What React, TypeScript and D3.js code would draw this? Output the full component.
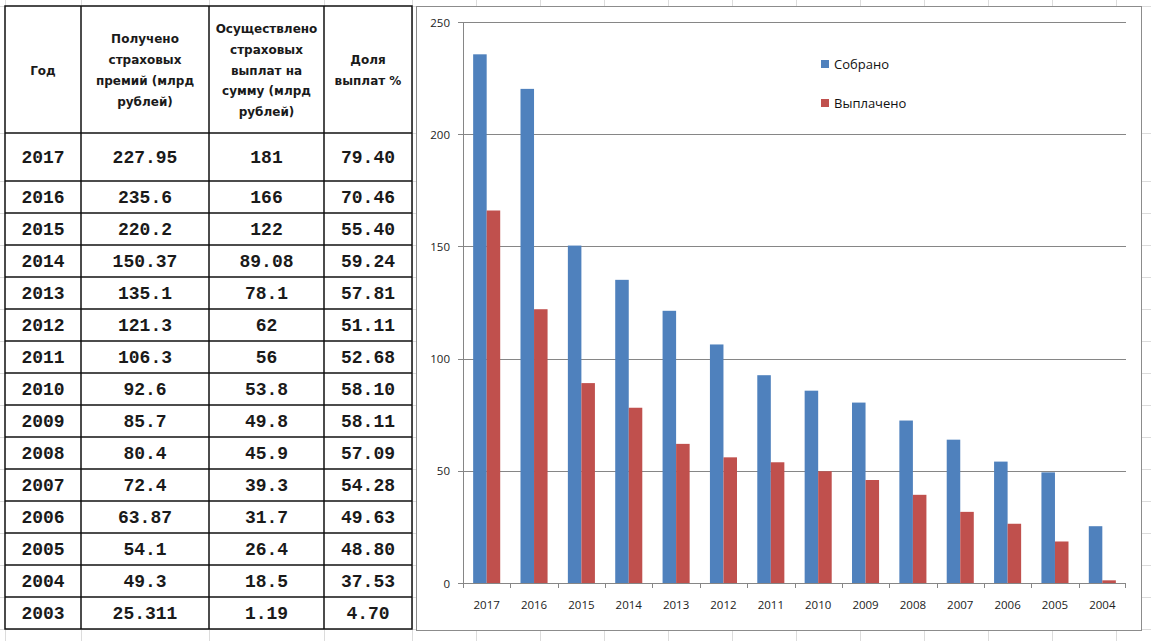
import React from 'react'
import * as d3 from 'd3'

// ---- table data (as printed) ----
const tableYears = ['2017', '2016', '2015', '2014', '2013', '2012', '2011', '2010', '2009', '2008', '2007', '2006', '2005', '2004', '2003']
const premiums = ['227.95', '235.6', '220.2', '150.37', '135.1', '121.3', '106.3', '92.6', '85.7', '80.4', '72.4', '63.87', '54.1', '49.3', '25.311']
const payouts = ['181', '166', '122', '89.08', '78.1', '62', '56', '53.8', '49.8', '45.9', '39.3', '31.7', '26.4', '18.5', '1.19']
const shares = ['79.40', '70.46', '55.40', '59.24', '57.81', '51.11', '52.68', '58.10', '58.11', '57.09', '54.28', '49.63', '48.80', '37.53', '4.70']

const headers: string[][] = [
    ['Год'],
    ['Получено', 'страховых', 'премий (млрд', 'рублей)'],
    ['Осуществлено', 'страховых', 'выплат на', 'сумму (млрд', 'рублей)'],
    ['Доля', 'выплат %'],
]

// ---- chart data (as plotted) ----
const chartYears = ['2017', '2016', '2015', '2014', '2013', '2012', '2011', '2010', '2009', '2008', '2007', '2006', '2005', '2004']
const collected = [235.6, 220.2, 150.37, 135.1, 121.3, 106.3, 92.6, 85.7, 80.4, 72.4, 63.87, 54.1, 49.3, 25.311]
const paid = [166, 122, 89.08, 78.1, 62, 56, 53.8, 49.8, 45.9, 39.3, 31.7, 26.4, 18.5, 1.19]
const seriesNames = ['Собрано', 'Выплачено']
const seriesColors = ['#4F81BD', '#C0504D']
const yTicks = [0, 50, 100, 150, 200, 250]

const W = 1151
const H = 641

export default function App() {
    // table geometry
    const colX = [5, 81, 209, 324, 412]
    const headTop = 6
    const headBottom = 133
    const rowTop = (i: number) => (i === 0 ? headBottom : 181 + (i - 1) * 32)
    const rowBottom = (i: number) => rowTop(i + 1)
    const tableBottom = rowTop(tableYears.length)

    // chart geometry
    const frame = {x0: 416, y0: 6, x1: 1141, y1: 630}
    const plot = {left: 463, right: 1126, top: 22, bottom: 583}

    const x = d3.scaleBand<string>().domain(chartYears).range([plot.left, plot.right])
    const xs = d3.scaleBand<string>().domain(seriesNames).range([0, x.bandwidth()]).paddingOuter(0.75)
    const y = d3.scaleLinear().domain([0, 250]).range([plot.bottom, plot.top])
    const series = [collected, paid]

    // spreadsheet background grid
    const bgCols: number[] = [...colX]
    for (let c = 476; c < W; c += 64) bgCols.push(c)
    const bgRows: number[] = [headTop, headBottom]
    for (let i = 1; i <= tableYears.length; i++) bgRows.push(rowTop(i))

    const monoFont = '"Liberation Mono", "DejaVu Sans Mono", monospace'
    const sansFont = '"DejaVu Sans", Verdana, sans-serif'
    const chartFont = '"Open Sans", "Noto Sans", sans-serif'

    return (
        <div style={{position: 'absolute', left: 0, top: 0}}>
            <svg width={W} height={H} style={{display: 'block', background: '#fff'}}>
                {/* faint spreadsheet grid */}
                <g stroke="#dcdcdc" strokeWidth={1}>
                    {bgCols.map((c) => (
                        <line key={'bc' + c} x1={c + 0.5} x2={c + 0.5} y1={0} y2={H}/>
                    ))}
                    {bgRows.map((r) => (
                        <line key={'br' + r} x1={0} x2={W} y1={r + 0.5} y2={r + 0.5}/>
                    ))}
                </g>

                {/* table */}
                <rect x={colX[0]} y={headTop} width={colX[4] - colX[0]} height={tableBottom - headTop} fill="#fff"/>
                <g fill="#1a1a1a">
                    {headers.map((lines, ci) => {
                        const cx = (colX[ci] + colX[ci + 1]) / 2
                        const lh = 20.8
                        const cy = (headTop + headBottom) / 2 + 1
                        const start = cy - ((lines.length - 1) * lh) / 2
                        return (
                            <text key={'h' + ci} x={cx} textAnchor="middle" fontFamily={sansFont}
                                  fontWeight="bold" fontSize={12}>
                                {lines.map((l, li) => (
                                    <tspan key={li} x={cx} y={start + li * lh} dominantBaseline="central">{l}</tspan>
                                ))}
                            </text>
                        )
                    })}
                    {tableYears.map((yr, i) => {
                        const cy = (rowTop(i) + rowBottom(i)) / 2 + 1
                        const cells = [yr, premiums[i], payouts[i], shares[i]]
                        return cells.map((v, ci) => (
                            <text key={'c' + i + '-' + ci} x={(colX[ci] + colX[ci + 1]) / 2} y={cy}
                                  textAnchor="middle" dominantBaseline="central" fontFamily={monoFont}
                                  fontWeight="bold" fontSize={18}>{v}</text>
                        ))
                    })}
                </g>
                <g stroke="#111" strokeWidth={1.5} fill="none">
                    <rect x={colX[0]} y={headTop} width={colX[4] - colX[0]} height={tableBottom - headTop}/>
                    {colX.slice(1, 4).map((c) => (
                        <line key={'tc' + c} x1={c} x2={c} y1={headTop} y2={tableBottom}/>
                    ))}
                    {d3.range(tableYears.length).map((i) => (
                        <line key={'tr' + i} x1={colX[0]} x2={colX[4]} y1={rowTop(i)} y2={rowTop(i)}/>
                    ))}
                </g>

                {/* chart frame */}
                <rect x={frame.x0 + 0.5} y={frame.y0 + 0.5} width={frame.x1 - frame.x0} height={frame.y1 - frame.y0}
                      fill="#fff" stroke="#8c8c8c" strokeWidth={1}/>

                {/* gridlines + y axis */}
                <g>
                    {yTicks.map((t) => (
                        <g key={'yt' + t}>
                            {t > 0 && (
                                <line x1={plot.left} x2={plot.right} y1={Math.round(y(t)) + 0.5} y2={Math.round(y(t)) + 0.5}
                                      stroke="#868686" strokeWidth={1}/>
                            )}
                            <line x1={plot.left - 5} x2={plot.left} y1={Math.round(y(t)) + 0.5} y2={Math.round(y(t)) + 0.5}
                                  stroke="#868686"/>
                            <text x={plot.left - 13} y={y(t)} textAnchor="end" dominantBaseline="central"
                                  fontFamily={chartFont} fontSize={11.5} fill="#222">{t}</text>
                        </g>
                    ))}
                    <line x1={plot.left + 0.5} x2={plot.left + 0.5} y1={plot.top} y2={plot.bottom} stroke="#868686"/>
                </g>

                {/* bars */}
                {series.map((vals, si) => (
                    <g key={'s' + si} fill={seriesColors[si]}>
                        {chartYears.map((yr, i) => (
                            <rect key={yr} x={x(yr)! + xs(seriesNames[si])!} y={y(vals[i])}
                                  width={xs.bandwidth()} height={y(0) - y(vals[i])}/>
                        ))}
                    </g>
                ))}

                {/* x axis */}
                <g>
                    <line x1={plot.left} x2={plot.right} y1={plot.bottom + 0.5} y2={plot.bottom + 0.5} stroke="#868686"/>
                    {chartYears.map((yr) => (
                        <line key={'xt' + yr} x1={Math.round(x(yr)!) + 0.5} x2={Math.round(x(yr)!) + 0.5}
                              y1={plot.bottom} y2={plot.bottom + 5} stroke="#868686"/>
                    ))}
                    <line x1={plot.right - 0.5} x2={plot.right - 0.5} y1={plot.bottom} y2={plot.bottom + 5} stroke="#868686"/>
                    {chartYears.map((yr) => (
                        <text key={'xl' + yr} x={x(yr)! + x.bandwidth() / 2} y={604} textAnchor="middle"
                              dominantBaseline="central" fontFamily={chartFont} fontSize={11.5} fill="#222">{yr}</text>
                    ))}
                </g>

                {/* legend */}
                {seriesNames.map((name, si) => (
                    <g key={'lg' + si} transform={`translate(821, ${64 + si * 39})`}>
                        <rect x={0} y={-4} width={8} height={8} fill={seriesColors[si]}/>
                        <text x={13} y={0} dominantBaseline="central" fontFamily={chartFont} fontSize={13}
                              fill="#111">{name}</text>
                    </g>
                ))}
            </svg>
        </div>
    )
}
